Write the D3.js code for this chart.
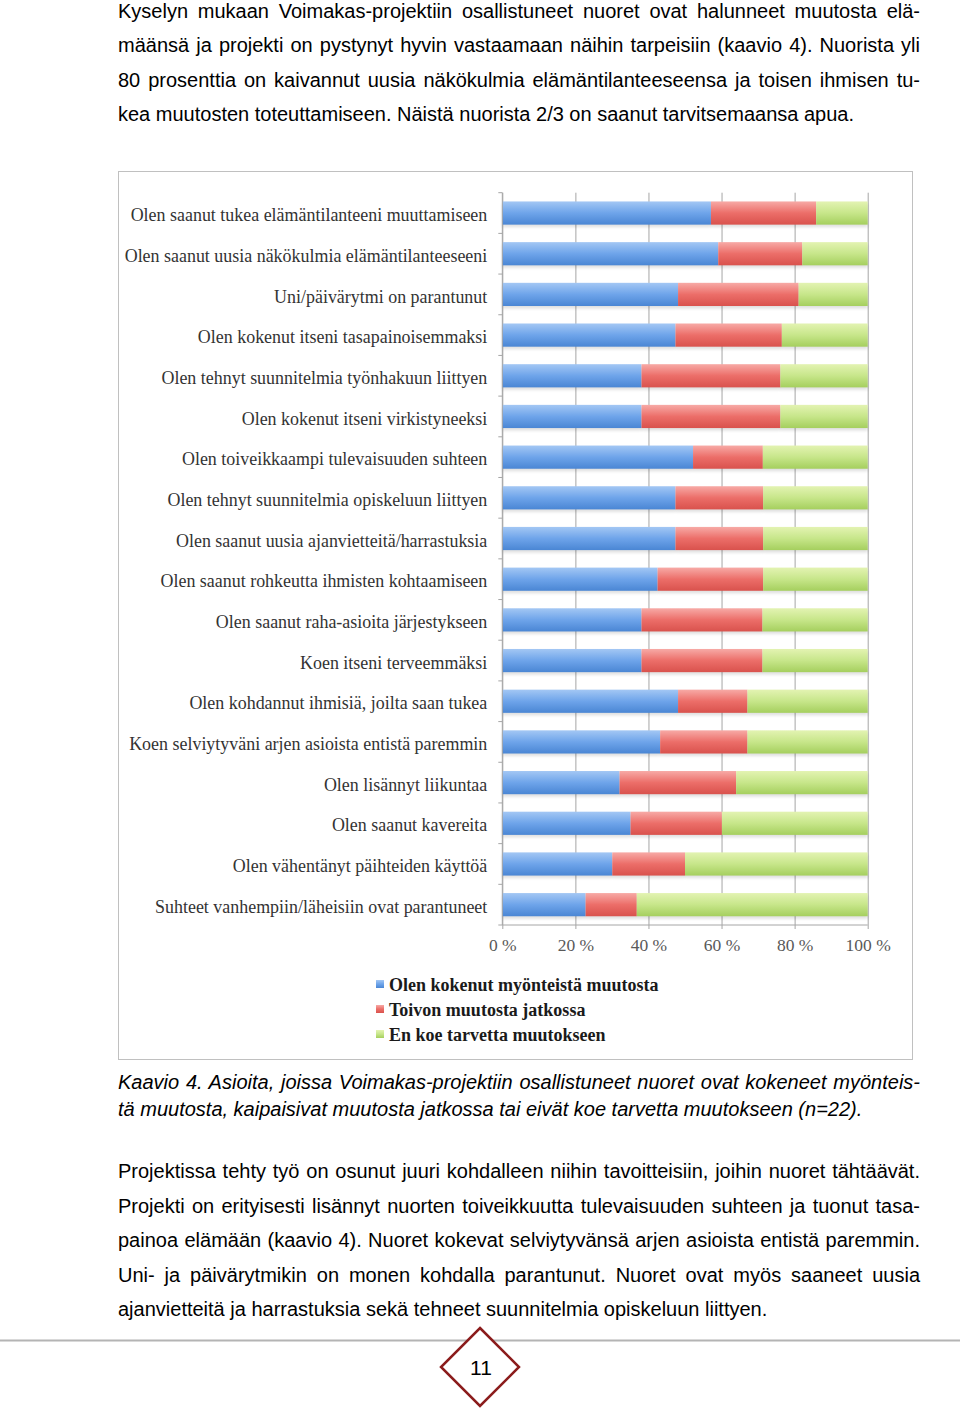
<!DOCTYPE html>
<html>
<head>
<meta charset="utf-8">
<script src="https://cdn.jsdelivr.net/npm/d3@7"></script>
<style>
  html, body { margin: 0; padding: 0; background: #fff; }
  svg { display: block; }
</style>
</head>
<body>
<svg id="page" width="960" height="1409"></svg>
<script>
// ---------- DATA ----------
const categories = [
  "Olen saanut tukea elämäntilanteeni muuttamiseen",
  "Olen saanut uusia näkökulmia elämäntilanteeseeni",
  "Uni/päivärytmi on parantunut",
  "Olen kokenut itseni tasapainoisemmaksi",
  "Olen tehnyt suunnitelmia työnhakuun liittyen",
  "Olen kokenut itseni virkistyneeksi",
  "Olen toiveikkaampi tulevaisuuden suhteen",
  "Olen tehnyt suunnitelmia opiskeluun liittyen",
  "Olen saanut uusia ajanvietteitä/harrastuksia",
  "Olen saanut rohkeutta ihmisten kohtaamiseen",
  "Olen saanut raha-asioita järjestykseen",
  "Koen itseni terveemmäksi",
  "Olen kohdannut ihmisiä, joilta saan tukea",
  "Koen selviytyväni arjen asioista entistä paremmin",
  "Olen lisännyt liikuntaa",
  "Olen saanut kavereita",
  "Olen vähentänyt päihteiden käyttöä",
  "Suhteet vanhempiin/läheisiin ovat parantuneet"
];
const positive = [57.1, 59.1, 48.1, 47.4, 38.1, 38.1, 52.2, 47.4, 47.4, 42.5, 38.1, 38.1, 48.1, 43.2, 32.1, 35.1, 30.1, 22.8];
const hoping   = [28.8, 23.0, 33.0, 29.1, 38.0, 38.0, 19.1, 24.0, 24.0, 28.9, 33.1, 33.1, 19.0, 23.9, 31.9, 25.0, 19.9, 14.0];
const noNeed   = [14.1, 17.9, 18.9, 23.5, 23.9, 23.9, 28.7, 28.6, 28.6, 28.6, 28.8, 28.8, 32.9, 32.9, 36.0, 39.9, 50.0, 63.2];
const seriesNames = ["Olen kokenut myönteistä muutosta", "Toivon muutosta jatkossa", "En koe tarvetta muutokseen"];
const xTicks = [0, 20, 40, 60, 80, 100];

const para1 = [
  "Kyselyn mukaan Voimakas-projektiin osallistuneet nuoret ovat halunneet muutosta elä-",
  "määnsä ja projekti on pystynyt hyvin vastaamaan näihin tarpeisiin (kaavio 4). Nuorista yli",
  "80 prosenttia on kaivannut uusia näkökulmia elämäntilanteeseensa ja toisen ihmisen tu-",
  "kea muutosten toteuttamiseen. Näistä nuorista 2/3 on saanut tarvitsemaansa apua."
];
const caption = [
  "Kaavio 4. Asioita, joissa Voimakas-projektiin osallistuneet nuoret ovat kokeneet myönteis-",
  "tä muutosta, kaipaisivat muutosta jatkossa tai eivät koe tarvetta muutokseen (n=22)."
];
const para2 = [
  "Projektissa tehty työ on osunut juuri kohdalleen niihin tavoitteisiin, joihin nuoret tähtäävät.",
  "Projekti on erityisesti lisännyt nuorten toiveikkuutta tulevaisuuden suhteen ja tuonut tasa-",
  "painoa elämään (kaavio 4). Nuoret kokevat selviytyvänsä arjen asioista entistä paremmin.",
  "Uni- ja päivärytmikin on monen kohdalla parantunut. Nuoret ovat myös saaneet uusia",
  "ajanvietteitä ja harrastuksia sekä tehneet suunnitelmia opiskeluun liittyen."
];
const pageNumber = "11";

// ---------- SETUP ----------
const svg = d3.select("#page");
const keys = ["positive", "hoping", "noNeed"];
const colors = {
  positive: ["#a3c7f4", "#6ea4ea", "#4a86d4"],
  hoping:   ["#f7aaa6", "#ec6e69", "#d9524d"],
  noNeed:   ["#e3f3b2", "#c7e68a", "#a5cf5e"]
};
const defs = svg.append("defs");
keys.forEach(k => {
  const g = defs.append("linearGradient").attr("id", "g-" + k)
    .attr("x1", 0).attr("y1", 0).attr("x2", 0).attr("y2", 1);
  g.append("stop").attr("offset", "0%").attr("stop-color", colors[k][0]);
  g.append("stop").attr("offset", "50%").attr("stop-color", colors[k][1]);
  g.append("stop").attr("offset", "100%").attr("stop-color", colors[k][2]);
});
const sh = defs.append("filter").attr("id", "shadow").attr("x", "-5%").attr("y", "-30%").attr("width", "110%").attr("height", "170%");
sh.append("feGaussianBlur").attr("stdDeviation", 1.5);

// ---------- TEXT (justified lines) ----------
function textBlock(lines, x0, x1, y0, dy, opts) {
  const g = svg.append("g")
    .attr("font-family", "'Liberation Sans', Arial, Helvetica, sans-serif")
    .attr("font-size", opts.size)
    .attr("font-style", opts.italic ? "italic" : "normal")
    .attr("fill", "#000");
  lines.forEach((line, i) => {
    const t = g.append("text").attr("x", x0).attr("y", y0 + i * dy).text(line);
    const justify = i < lines.length - 1;
    if (justify) {
      const w = t.node().getComputedTextLength();
      const spaces = (line.match(/ /g) || []).length;
      if (spaces > 0) t.attr("word-spacing", ((x1 - x0) - w) / spaces);
    }
  });
}
textBlock(para1, 118, 920, 17.5, 34.5, { size: 20 });
textBlock(caption, 118, 920, 1089, 27, { size: 20, italic: true });
textBlock(para2, 118, 920, 1178, 34.6, { size: 20 });

// ---------- CHART ----------
svg.append("rect")
  .attr("x", 118.5).attr("y", 171.5).attr("width", 794).attr("height", 888)
  .attr("fill", "#fff").attr("stroke", "#c0c0c0").attr("stroke-width", 1);

const x = d3.scaleLinear().domain([0, 100]).range([502.3, 867.7]);
const y = d3.scaleBand().domain(categories).range([192.7, 925]).paddingInner(0.43).paddingOuter(0.215);

const rows = categories.map((c, i) => ({ cat: c, positive: positive[i], hoping: hoping[i], noNeed: noNeed[i] }));
const stacked = d3.stack().keys(keys)(rows);

// gridlines
const xAxis = svg.append("g").attr("transform", "translate(0,925)")
  .call(d3.axisBottom(x).tickValues(xTicks).tickSize(-(925 - 192.7)).tickFormat(() => ""));
xAxis.select(".domain").remove();
xAxis.selectAll("line").attr("stroke", "#a6a6a6").attr("stroke-width", 1);

// bottom axis
const xAxis2 = svg.append("g").attr("transform", "translate(0,925)")
  .call(d3.axisBottom(x).tickValues(xTicks).tickSize(4).tickPadding(10).tickFormat(d => d + " %"));
xAxis2.select(".domain").attr("stroke", "#a6a6a6").attr("d", `M${x(0)},0H${x(100)}`);
xAxis2.selectAll("line").attr("stroke", "#a6a6a6");
xAxis2.selectAll("text")
  .attr("font-family", "'Liberation Serif', 'DejaVu Serif', serif")
  .attr("font-size", 17.5).attr("fill", "#595959");

// bars
const layer = svg.append("g");
stacked.forEach(s => {
  layer.append("g").selectAll("rect").data(s).join("rect")
    .attr("x", d => x(d[0])).attr("y", d => y(d.data.cat) + 2.5)
    .attr("width", d => x(d[1]) - x(d[0])).attr("height", y.bandwidth())
    .attr("fill", "#000").attr("opacity", 0.12).attr("filter", "url(#shadow)");
});
stacked.forEach(s => {
  layer.append("g").selectAll("rect").data(s).join("rect")
    .attr("x", d => x(d[0])).attr("y", d => y(d.data.cat))
    .attr("width", d => x(d[1]) - x(d[0])).attr("height", y.bandwidth())
    .attr("fill", "url(#g-" + s.key + ")");
});

// left axis
const yAxis = svg.append("g").attr("transform", `translate(${x(0)},0)`)
  .call(d3.axisLeft(y).tickSize(0).tickPadding(15));
yAxis.select(".domain").attr("stroke", "#a6a6a6").attr("d", `M0,192.7V925`);
yAxis.selectAll("text")
  .attr("font-family", "'Liberation Serif', 'DejaVu Serif', serif")
  .attr("font-size", 16.5).attr("fill", "#333333").attr("dy", "0.45em");
let maxW = 0;
yAxis.selectAll("text").each(function () { maxW = Math.max(maxW, this.getComputedTextLength()); });
const fs = 16.5 * 363 / maxW;
yAxis.selectAll("text").attr("font-size", fs);
// boundary ticks
const bounds = categories.map(c => y(c) - y.step() * y.paddingInner() / 2).concat([925]);
bounds[0] = 192.7;
yAxis.append("g").selectAll("line").data(bounds).join("line")
  .attr("x1", -4).attr("x2", 0).attr("y1", d => d).attr("y2", d => d)
  .attr("stroke", "#a6a6a6");

// legend
const legend = svg.append("g").attr("transform", "translate(376,985)");
seriesNames.forEach((n, i) => {
  const g = legend.append("g").attr("transform", `translate(0,${i * 25})`);
  g.append("rect").attr("x", 0).attr("y", -5).attr("width", 8).attr("height", 8)
    .attr("fill", "url(#g-" + keys[i] + ")");
  g.append("text").attr("x", 13).attr("y", 6).text(n)
    .attr("font-family", "'Liberation Serif', 'DejaVu Serif', serif")
    .attr("font-weight", "bold").attr("font-size", 18).attr("fill", "#1a1a1a");
});

// ---------- FOOTER ----------
svg.append("line").attr("x1", 0).attr("x2", 960).attr("y1", 1340.5).attr("y2", 1340.5)
  .attr("stroke", "#b4b4b4").attr("stroke-width", 2);
svg.append("path")
  .attr("d", "M480,1328 L519,1367 L480,1406 L441,1367 Z")
  .attr("fill", "#fff").attr("stroke", "#8b1c1c").attr("stroke-width", 2.5);
svg.append("text").attr("x", 481).attr("y", 1375).attr("text-anchor", "middle")
  .attr("font-family", "'Liberation Sans', Arial, sans-serif").attr("font-size", 21)
  .attr("fill", "#000").text(pageNumber);
</script>
</body>
</html>
